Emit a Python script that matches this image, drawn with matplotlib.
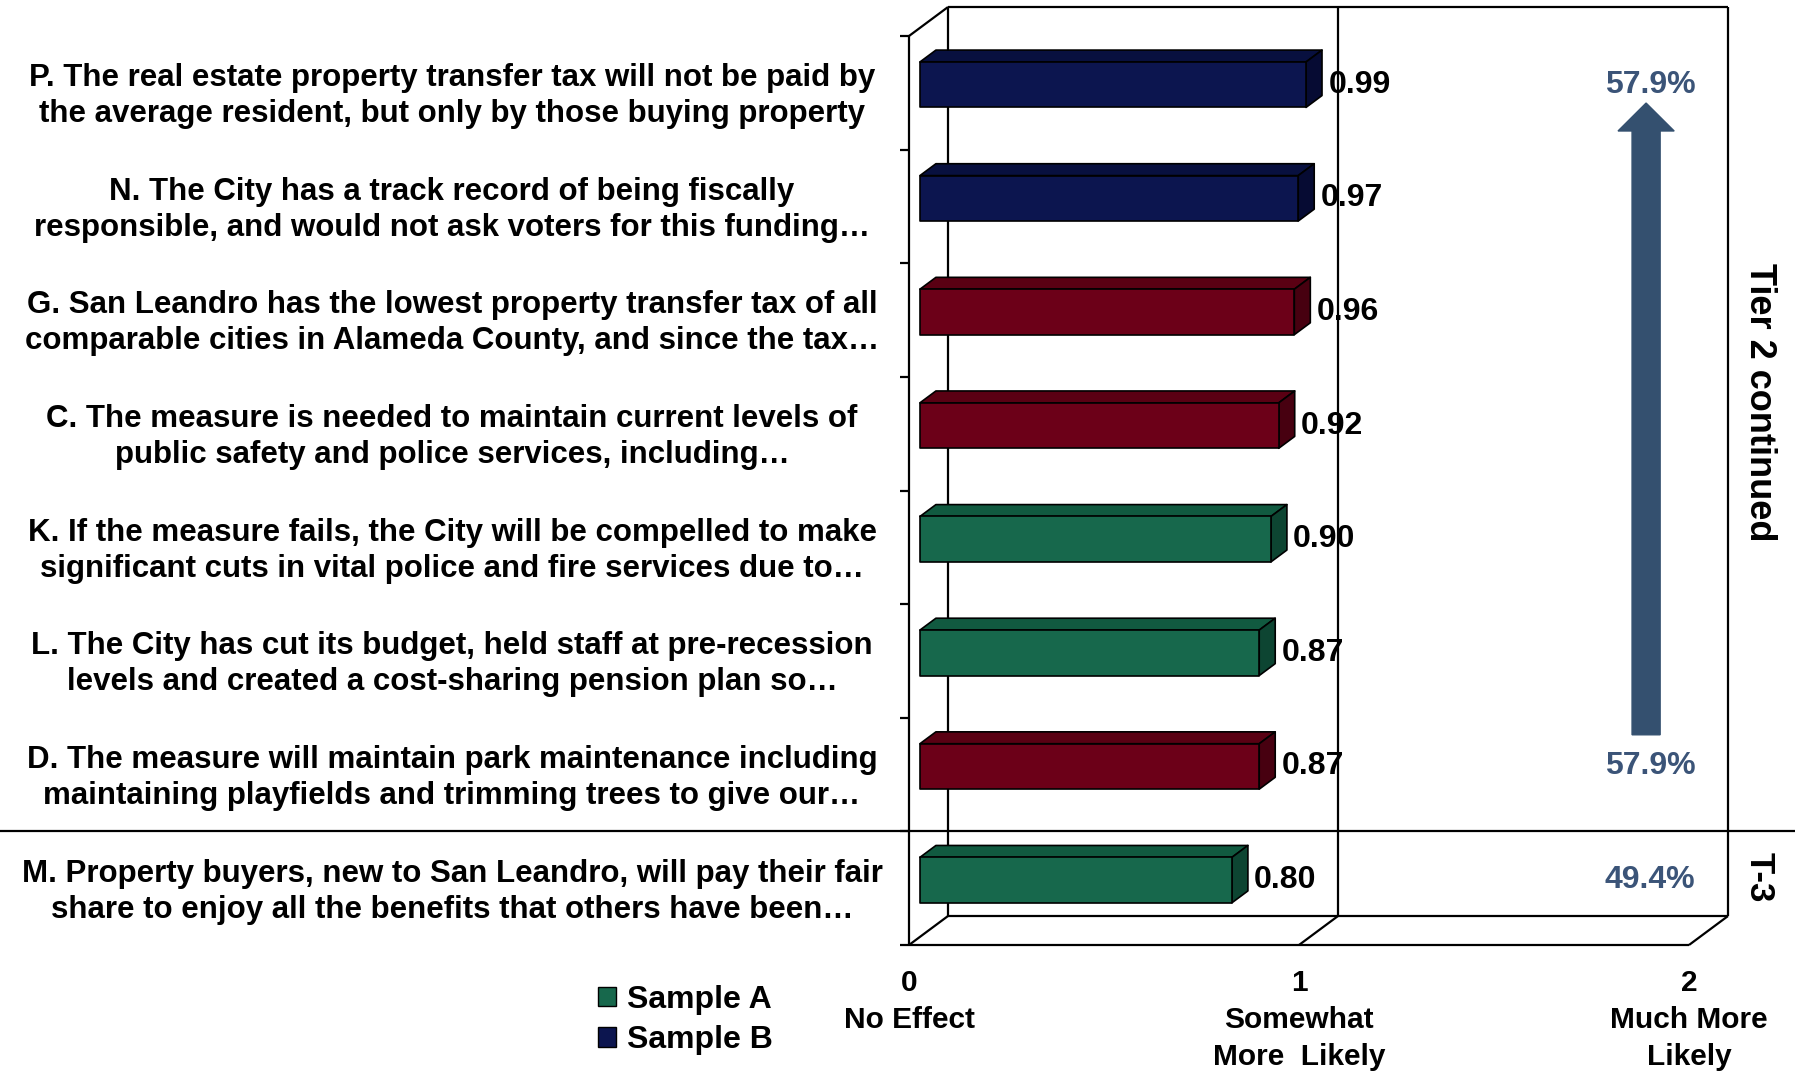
import matplotlib
matplotlib.use('Agg')

import matplotlib.pyplot as plt
import matplotlib.transforms as mtransforms
from matplotlib.patches import Polygon, Patch

# data
line1 = [
    'P. The real estate property transfer tax will not be paid by',
    'N. The City has a track record of being fiscally',
    'G. San Leandro has the lowest property transfer tax of all',
    'C. The measure is needed to maintain current levels of',
    'K. If the measure fails, the City will be compelled to make',
    'L. The City has cut its budget, held staff at pre-recession',
    'D. The measure will maintain park maintenance including',
    'M. Property buyers, new to San Leandro, will pay their fair',
]
line2 = [
    'the average resident, but only by those buying property',
    'responsible, and would not ask voters for this funding\u2026',
    'comparable cities in Alameda County, and since the tax\u2026',
    'public safety and police services, including\u2026',
    'significant cuts in vital police and fire services due to\u2026',
    'levels and created a cost-sharing pension plan so\u2026',
    'maintaining playfields and trimming trees to give our\u2026',
    'share to enjoy all the benefits that others have been\u2026',
]
values = [0.99, 0.97, 0.96, 0.92, 0.90, 0.87, 0.87, 0.80]
sample = ['B', 'B', 'T', 'T', 'A', 'A', 'T', 'A']
pct_rows = [0, 6, 7]
pct_text = ['57.9%', '57.9%', '49.4%']
xtick_vals = [0, 1, 2]
xtick_text = ['0\nNo Effect', '1\nSomewhat\nMore  Likely', '2\nMuch More\nLikely']

# colours: front, top, side
COLORS = {
    'A': ('#17684c', '#115a40', '#0d4532'),
    'B': ('#0c154f', '#08103f', '#060b33'),
    'T': ('#6c0018', '#5a0013', '#470010'),
}
PCT_COLOR = '#3b5478'
ARROW_COLOR = '#34506f'

plt.rcParams['font.family'] = ['Liberation Sans', 'DejaVu Sans']
plt.rcParams['font.weight'] = 'bold'

W, H = 1795, 1071
fig = plt.figure(figsize=(W / 100, H / 100), dpi=100)
ax = fig.add_axes([909 / W, 1 - 945 / H, 780 / W, 909 / H])
n = len(values)
ax.set_xlim(0, 2)
ax.set_ylim(n, 0)
for s in ax.spines.values():
    s.set_visible(False)
ax.set_yticks([])

# 3d depth offsets (data units)
DX, DY = 0.10, -0.255
Z0, Z1 = 0.28, 0.69
BH = 0.40

def proj(x, y, z):
    return (x + z * DX, y + z * DY)

# frame
kw = dict(color='black', lw=1.6, clip_on=False, solid_capstyle='butt')
bx, by = proj(0, 0, 1)
ax.plot([0, 0], [0, n], **kw)
ax.plot([0, bx], [0, by], **kw)
ax.plot([bx, bx], [by, n + DY], **kw)
ax.plot([bx, 2 + DX], [by, by], **kw)
ax.plot([2 + DX, 2 + DX], [by, n + DY], **kw)
ax.plot([1 + DX, 1 + DX], [by, n + DY], **kw)
ax.plot([0, 2], [n, n], **kw)
ax.plot([DX, 2 + DX], [n + DY, n + DY], **kw)
for xv in xtick_vals:
    ax.plot([xv, xv + DX], [n, n + DY], **kw)
for i in range(n + 1):
    ax.plot([-0.022, 0], [i, i], **kw)

# bars
for i, (v, s) in enumerate(zip(values, sample)):
    front, top, side = COLORS[s]
    yt = i + 0.5 - BH / 2
    yb = i + 0.5 + BH / 2
    pts_front = [proj(0, yt, Z0), proj(v, yt, Z0), proj(v, yb, Z0), proj(0, yb, Z0)]
    pts_top = [proj(0, yt, Z0), proj(v, yt, Z0), proj(v, yt, Z1), proj(0, yt, Z1)]
    pts_side = [proj(v, yt, Z0), proj(v, yb, Z0), proj(v, yb, Z1), proj(v, yt, Z1)]
    for pts, c in [(pts_top, top), (pts_side, side), (pts_front, front)]:
        ax.add_patch(Polygon(pts, closed=True, facecolor=c, edgecolor='black',
                             lw=1.2, joinstyle='round', zorder=3))
    lx, ly = proj(v, i + 0.5, Z1)
    ax.text(lx + 0.016, proj(v, i + 0.5, Z0)[1], f'{v:.2f}', ha='left', va='center',
            fontsize=23, zorder=4)

# separator between tiers
blend = mtransforms.blended_transform_factory(fig.transFigure, ax.transData)
ax.plot([0, 1], [7, 7], color='black', lw=1.6, transform=blend, clip_on=False)

# row labels
for i, (a, b) in enumerate(zip(line1, line2)):
    ax.text(452 / W, i + 0.53, a + '\n' + b, transform=blend, ha='center', va='center',
            multialignment='center', fontsize=22.5, linespacing=1.26)

# x axis labels
ax.set_xticks(xtick_vals)
ax.set_xticklabels(xtick_text, fontsize=21.5, linespacing=1.42)
ax.tick_params(axis='x', length=0, pad=17)

# arrow and percentages
ax.arrow(1.89, 6.15, 0, -5.56, width=0.072, head_width=0.144, head_length=0.246,
         length_includes_head=True, color=ARROW_COLOR, clip_on=False, zorder=2)
for r, t in zip(pct_rows, pct_text):
    ax.text(1.90, proj(0, r + 0.5, Z0)[1], t, ha='center', va='center',
            fontsize=23, color=PCT_COLOR)

fig.text(1759 / W, 1 - 402 / H, 'Tier 2 continued', rotation=-90, ha='center',
         va='center', fontsize=26)
fig.text(1759 / W, 1 - 877 / H, 'T-3', rotation=-90, ha='center', va='center',
         fontsize=25)

# legend
handles = [Patch(facecolor=COLORS['A'][0], edgecolor='black', label='Sample A'),
           Patch(facecolor=COLORS['B'][0], edgecolor='black', label='Sample B')]
fig.legend(handles=handles, loc='upper left', bbox_to_anchor=(598 / W, 1 - 985 / H),
           frameon=False, fontsize=23, handlelength=0.55, handleheight=0.55,
           handletextpad=0.35, labelspacing=0.32, borderpad=0, borderaxespad=0)

fig.savefig('out.png', dpi=100)
